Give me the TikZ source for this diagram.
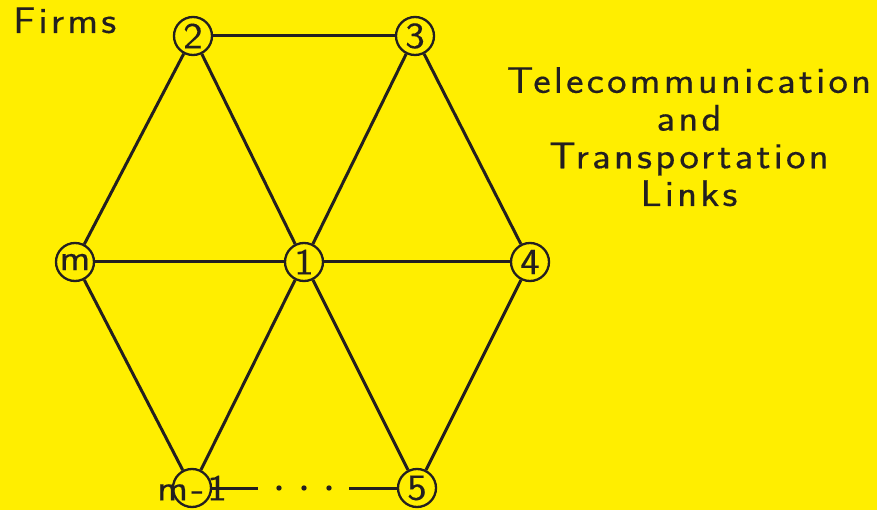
\documentclass[tikz,border=0pt]{standalone}
\usepackage{fontspec}
\setsansfont[LetterSpace=8.5,FakeStretch=1.12,FakeBold=0.3]{Latin Modern Sans}
\definecolor{bg}{RGB}{255,238,0}
\definecolor{ink}{RGB}{35,31,32}
\newcommand\lab{\sffamily\fontsize{37pt}{37.7pt}\selectfont}
\begin{document}
\begin{tikzpicture}[x=1pt,y=-1pt,
  firm/.style={circle,draw=ink,line width=2.3pt,minimum size=38pt,inner sep=0pt,font=\lab,text=ink},
  link/.style={draw=ink,line width=3pt},
  txt/.style={font=\lab,text=ink,inner sep=0pt}]
\fill[bg] (0,0) rectangle (877,510);
\useasboundingbox (0,0) rectangle (877,510);
\node[firm] (n2) at (193,36) {2};
\node[firm] (n3) at (415,36) {3};
\node[firm] (nm) at (75,262) {\makebox[0pt]{m}};
\node[firm] (n1) at (304,262) {1};
\node[firm] (n4) at (530,262) {4};
\node[firm] (nm1) at (192,488) {\makebox[0pt]{m-1}};
\node[firm] (n5) at (417,488) {5};
\draw[link] (n2) -- (n3);
\draw[link] (n2) -- (nm);
\draw[link] (n2) -- (n1);
\draw[link] (n3) -- (n1);
\draw[link] (n3) -- (n4);
\draw[link] (nm) -- (n1);
\draw[link] (n1) -- (n4);
\draw[link] (nm) -- (nm1);
\draw[link] (n1) -- (nm1);
\draw[link] (n1) -- (n5);
\draw[link] (n4) -- (n5);
\coordinate (e1) at (258,488);
\coordinate (e2) at (349,488);
\draw[link] (nm1) -- (e1);
\draw[link] (e2) -- (n5);
\foreach \x in {279,304,329} \fill[ink] (\x,488) circle (2.7pt);
\node[txt,anchor=base west] (firms) at (13,33) {Firms};
\node[txt,anchor=north,align=center] (links) at (689,67) {Telecommunication\\and\\Transportation\\Links};
\end{tikzpicture}
\end{document}
